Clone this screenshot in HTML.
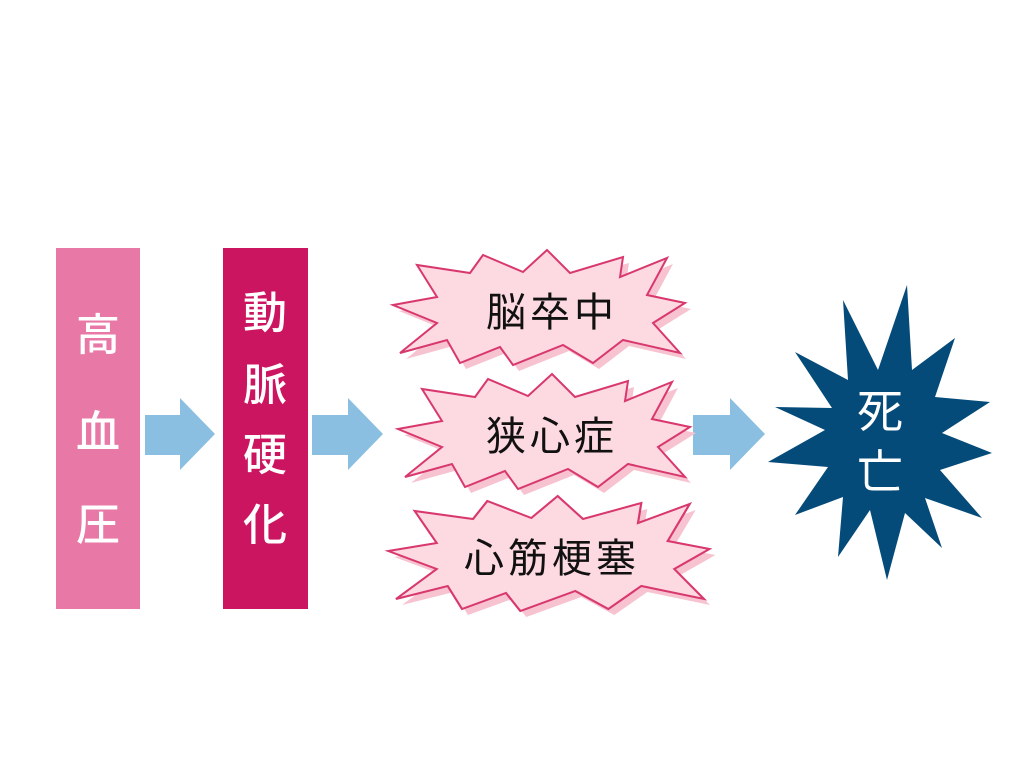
<!DOCTYPE html>
<html><head><meta charset="utf-8"><style>
body{margin:0;background:#fff;width:1024px;height:768px;overflow:hidden}
svg{display:block}
text{font-family:"Liberation Sans","Noto Sans CJK JP",sans-serif}
</style></head><body>
<svg width="1024" height="768" viewBox="0 0 1024 768">
<defs>
<polygon id="st" points="-147,-3 -103,-11 -123,-43 -70,-35 -57,-53 -17,-36 7,-58 30,-35 83,-51 80,-31 127,-50 107,-13 145,-5 113,15 140,45 83,32 53,55 23,37 -27,57 -40,39 -80,55 -93,32 -140,45 -103,15"/>
</defs>
<rect x="56" y="248" width="84" height="361" fill="#e878a6"/>
<rect x="223" y="248" width="85" height="361" fill="#cc1560"/>
<g fill="#fff" font-size="44" text-anchor="middle" font-weight="500">
<text x="98" y="350">高</text><text x="98" y="447">血</text><text x="98" y="540">圧</text>
<text x="265" y="328">動</text><text x="265" y="400">脈</text><text x="265" y="470">硬</text><text x="265" y="540">化</text>
</g>
<g fill="#8bbfe2">
<polygon points="145,415 180,415 180,398 215,434 180,470 180,455 145,455"/>
<polygon points="312,415 348,415 348,398 383,434 348,470 348,455 312,455"/>
<polygon points="693,415 730,415 730,398 765,434 730,470 730,455 693,455"/>
</g>
<g>
<use href="#st" transform="translate(546,314)" fill="#f7c3d0"/>
<use href="#st" transform="translate(540,308)" fill="#fdd9e1" stroke="#d8386e" stroke-width="2"/>
<use href="#st" transform="translate(551,438)" fill="#f7c3d0"/>
<use href="#st" transform="translate(545,432)" fill="#fdd9e1" stroke="#d8386e" stroke-width="2"/>
<use href="#st" transform="translate(556,560) scale(1.1,1)" fill="#f7c3d0"/>
<use href="#st" transform="translate(550,554) scale(1.1,1)" fill="#fdd9e1" stroke="#d8386e" stroke-width="2"/>
</g>
<g fill="#111" font-size="40" text-anchor="middle" letter-spacing="4">
<text x="552" y="326">脳卒中</text>
<text x="552" y="450">狭心症</text>
<text x="552" y="572">心筋梗塞</text>
</g>
<polygon fill="#054b7a" points="907,285 912,370 955,338 935,397 990,402 942,433 992,453 940,470 982,518 925,498 942,548 905,513 887,580 870,510 838,557 843,497 795,515 828,467 768,462 825,430 775,407 832,408 795,352 848,380 843,300 878,370"/>
<g fill="#fff" font-size="46" text-anchor="middle">
<text x="880" y="427">死</text><text x="880" y="488">亡</text>
</g>
</svg>
</body></html>
